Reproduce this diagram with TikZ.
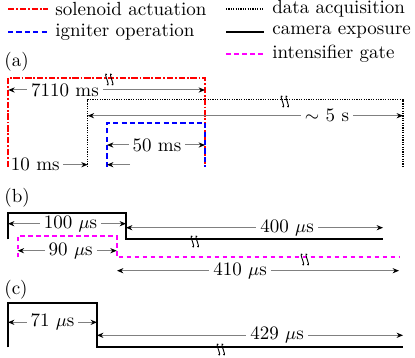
\documentclass[tikz,border=0pt]{standalone}
\usetikzlibrary{arrows.meta}
\definecolor{mag}{RGB}{255,0,255}
\definecolor{solred}{RGB}{255,0,0}
\definecolor{ignblue}{RGB}{0,0,255}
\begin{document}
\begin{tikzpicture}[x=0.5pt,y=-0.5pt,
  every node/.style={font=\fontsize{9.5}{11}\selectfont, inner sep=0pt},
  sol/.style={solred, line width=0.9pt, dash pattern=on 3.2pt off 0.9pt on 0.9pt off 0.9pt},
  ign/.style={ignblue, line width=0.9pt, dash pattern=on 2.6pt off 1.6pt},
  daq/.style={black, line width=0.6pt, dash pattern=on 0.6pt off 0.6pt},
  cam/.style={black, line width=1pt},
  gate/.style={mag, line width=0.9pt, dash pattern=on 2.4pt off 1.6pt},
  dim/.style={draw=black!50, line width=0.5pt, {Stealth[black,length=3.2pt,width=2.6pt]}-{Stealth[black,length=3.2pt,width=2.6pt]}},
  dimr/.style={draw=black!50, line width=0.5pt, -{Stealth[black,length=3.2pt,width=2.6pt]}},
  lab/.style={fill=white, inner xsep=2pt, inner ysep=1pt},
  brk/.style={draw=black, line width=0.45pt}
]
\useasboundingbox (0,0) rectangle (415,357);
\newcommand\brkmark[1]{%
  \draw[brk] ([xshift=-1.3pt,yshift=-2.5pt]#1) .. controls +(2.2pt,-1.6pt) and +(-2.2pt,1.6pt) .. ([xshift=-1.3pt,yshift=2.5pt]#1);
  \draw[brk] ([xshift=1.1pt,yshift=-2.5pt]#1) .. controls +(2.2pt,-1.6pt) and +(-2.2pt,1.6pt) .. ([xshift=1.1pt,yshift=2.5pt]#1);}

% legend
\coordinate (l1a) at (8,9);   \coordinate (l1b) at (48,9);
\coordinate (l2a) at (8,32);  \coordinate (l2b) at (48,32);
\coordinate (l3a) at (226,9); \coordinate (l3b) at (264,9);
\coordinate (l4a) at (226,32);\coordinate (l4b) at (264,32);
\coordinate (l5a) at (226,54);\coordinate (l5b) at (264,54);
\draw[sol] (l1a) -- (l1b); \node[anchor=west] (t1) at (55,9) {solenoid actuation};
\draw[ign] (l2a) -- (l2b); \node[anchor=west] (t2) at (55,32) {igniter operation};
\draw[daq] (l3a) -- (l3b); \node[anchor=west] (t3) at (272,9) {data acquisition};
\draw[cam] (l4a) -- (l4b); \node[anchor=west] (t4) at (272,32) {camera exposure};
\draw[gate] (l5a) -- (l5b); \node[anchor=west] (t5) at (272,54) {intensifier gate};

% (a)
\node[anchor=west] (pa) at (4,62) {(a)};
\coordinate (r0) at (8.3,167); \coordinate (r1) at (8.3,77.7);
\coordinate (r2) at (205,77.7); \coordinate (r3) at (205,167);
\draw[sol] (r0) -- (r1) -- (r2) -- (r3);
\coordinate (d0) at (87.7,167); \coordinate (d1) at (87.7,99.7);
\coordinate (d2) at (403,99.7); \coordinate (d3) at (403,167);
\draw[daq] (d0) -- (d1) -- (d2) -- (d3);
\coordinate (b0) at (107,167); \coordinate (b1) at (107,122.7);
\coordinate (b2) at (205,122.7); \coordinate (b3) at (205,167);
\draw[ign] (b0) -- (b1) -- (b2) -- (b3);
\coordinate (k1) at (109.5,79.5); \brkmark{k1}
\coordinate (k2) at (285,101.5); \brkmark{k2}

\coordinate (a1l) at (8.3,90); \coordinate (a1r) at (205,90);
\draw[dim] (a1l) -- (a1r);
\node[lab] (n7110) at (65,90) {7110 ms};
\coordinate (a2l) at (87.7,115.7); \coordinate (a2r) at (403,115.7);
\draw[dim] (a2l) -- (a2r);
\node[lab] (n5s) at (327,115.7) {$\sim$ 5 s};
\coordinate (a3l) at (107,145); \coordinate (a3r) at (205,145);
\draw[dim] (a3l) -- (a3r);
\node[lab] (n50) at (157,145) {50 ms};
\node (n10) at (35.3,164.7) {10 ms};
\coordinate (a4r) at (87.7,164.7);
\draw[dimr] ([xshift=1.5pt]n10.east) -- (a4r);
\coordinate (a5s) at (130,164.7); \coordinate (a5e) at (107,164.7);
\draw[dimr] (a5s) -- (a5e);

% (b)
\node[anchor=west] (pb) at (4,198) {(b)};
\coordinate (c0) at (8,239.3); \coordinate (c1) at (8,212.7);
\coordinate (c2) at (126,212.7); \coordinate (c3) at (126,239.3);
\coordinate (c4) at (383,239.3);
\draw[cam] (c0) -- (c1) -- (c2) -- (c3) -- (c4);
\coordinate (m0) at (17.7,257.3); \coordinate (m1) at (17.7,235.7);
\coordinate (m2) at (116.7,235.7); \coordinate (m3) at (116.7,257.3);
\coordinate (m4) at (399,257.3);
\draw[gate] (m0) -- (m1) -- (m2) -- (m3) -- (m4);
\coordinate (k3) at (195,241.5); \brkmark{k3}
\coordinate (k4) at (305,259.5); \brkmark{k4}

\coordinate (e1l) at (8,223.7); \coordinate (e1r) at (126,223.7);
\draw[dim] (e1l) -- (e1r);
\node[lab] (n100) at (70.5,223.7) {100 $\mu$s};
\coordinate (e2l) at (126,227.7); \coordinate (e2r) at (383,227.7);
\draw[dim] (e2l) -- (e2r);
\node[lab] (n400) at (287,227.7) {400 $\mu$s};
\coordinate (e3l) at (17.7,250.7); \coordinate (e3r) at (116.7,250.7);
\draw[dim] (e3l) -- (e3r);
\node[lab] (n90) at (70.7,250.7) {90 $\mu$s};
\coordinate (e4l) at (117,270.7); \coordinate (e4r) at (399,270.7);
\draw[dim] (e4l) -- (e4r);
\node[lab] (n410) at (240,270.7) {410 $\mu$s};

% (c)
\node[anchor=west] (pc) at (4,290) {(c)};
\coordinate (g0) at (8,347.3); \coordinate (g1) at (8,303.3);
\coordinate (g2) at (97,303.3); \coordinate (g3) at (97,347.3);
\coordinate (g4) at (403,347.3);
\draw[cam] (g0) -- (g1) -- (g2) -- (g3) -- (g4);
\coordinate (k5) at (221,349.5); \brkmark{k5}
\coordinate (f1l) at (8,322.3); \coordinate (f1r) at (97,322.3);
\draw[dim] (f1l) -- (f1r);
\node[lab] (n71) at (52.5,322.3) {71 $\mu$s};
\coordinate (f2l) at (97,335.3); \coordinate (f2r) at (403,335.3);
\draw[dim] (f2l) -- (f2r);
\node[lab] (n429) at (277,335.3) {429 $\mu$s};
\end{tikzpicture}
\end{document}
